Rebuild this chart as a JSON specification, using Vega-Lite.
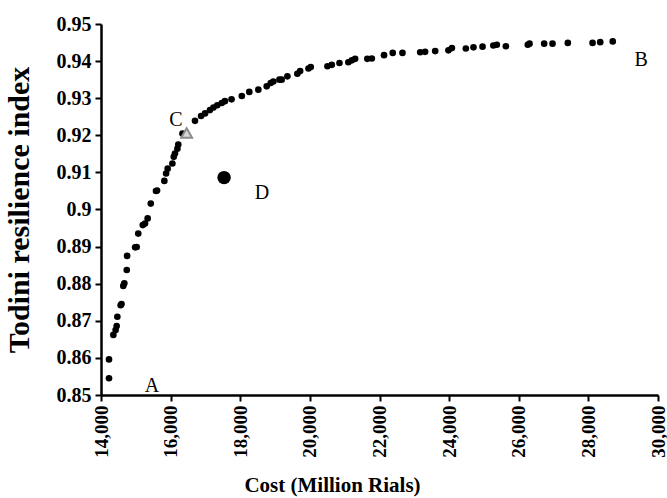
{
  "$schema": "https://vega.github.io/schema/vega-lite/v6.json",
  "width": 557,
  "height": 371,
  "autosize": {"type": "none"},
  "padding": {"left": 101, "top": 24, "right": 9, "bottom": 103},
  "background": "white",
  "config": {
    "view": {"stroke": null},
    "font": "Liberation Serif",
    "axis": {
      "grid": false,
      "domainColor": "black",
      "domainWidth": 2.5,
      "tickColor": "black",
      "tickWidth": 2,
      "tickSize": 6,
      "labelFont": "Liberation Serif",
      "labelFontWeight": "bold",
      "labelFontSize": 19,
      "labelColor": "black",
      "titleFont": "Liberation Serif",
      "titleFontWeight": "bold",
      "titleColor": "black"
    }
  },
  "datasets": {
    "pareto": [
      {"cost": 14230, "index": 0.8545},
      {"cost": 14230, "index": 0.8596},
      {"cost": 14355, "index": 0.8662},
      {"cost": 14420, "index": 0.8675},
      {"cost": 14450, "index": 0.8686},
      {"cost": 14470, "index": 0.8711},
      {"cost": 14565, "index": 0.8742},
      {"cost": 14590, "index": 0.8745},
      {"cost": 14640, "index": 0.8794},
      {"cost": 14670, "index": 0.8801},
      {"cost": 14740, "index": 0.8837},
      {"cost": 14750, "index": 0.8875},
      {"cost": 14980, "index": 0.8898},
      {"cost": 15025, "index": 0.8899},
      {"cost": 15070, "index": 0.8935},
      {"cost": 15200, "index": 0.8958},
      {"cost": 15265, "index": 0.8962},
      {"cost": 15340, "index": 0.8976},
      {"cost": 15430, "index": 0.9016},
      {"cost": 15580, "index": 0.905},
      {"cost": 15610, "index": 0.9051},
      {"cost": 15820, "index": 0.9077},
      {"cost": 15870, "index": 0.9097},
      {"cost": 15915, "index": 0.911},
      {"cost": 16050, "index": 0.9124},
      {"cost": 16090, "index": 0.9142},
      {"cost": 16125, "index": 0.9151},
      {"cost": 16195, "index": 0.9164},
      {"cost": 16220, "index": 0.9175},
      {"cost": 16340, "index": 0.9205},
      {"cost": 16700, "index": 0.9239},
      {"cost": 16875, "index": 0.9252},
      {"cost": 16990, "index": 0.9259},
      {"cost": 17130, "index": 0.9268},
      {"cost": 17230, "index": 0.9275},
      {"cost": 17340, "index": 0.9281},
      {"cost": 17470, "index": 0.9287},
      {"cost": 17560, "index": 0.9292},
      {"cost": 17750, "index": 0.9297},
      {"cost": 18045, "index": 0.9306},
      {"cost": 18260, "index": 0.9317},
      {"cost": 18520, "index": 0.9323},
      {"cost": 18760, "index": 0.9332},
      {"cost": 18875, "index": 0.9341},
      {"cost": 18950, "index": 0.9345},
      {"cost": 19125, "index": 0.935},
      {"cost": 19190, "index": 0.935},
      {"cost": 19355, "index": 0.9359},
      {"cost": 19640, "index": 0.9366},
      {"cost": 19720, "index": 0.9373},
      {"cost": 19960, "index": 0.938},
      {"cost": 20025, "index": 0.9384},
      {"cost": 20505, "index": 0.9386},
      {"cost": 20630, "index": 0.939},
      {"cost": 20850, "index": 0.9395},
      {"cost": 21105, "index": 0.9397},
      {"cost": 21205, "index": 0.9402},
      {"cost": 21300, "index": 0.9406},
      {"cost": 21650, "index": 0.9406},
      {"cost": 21780, "index": 0.9407},
      {"cost": 22130, "index": 0.9416},
      {"cost": 22380, "index": 0.9422},
      {"cost": 22660, "index": 0.9422},
      {"cost": 23170, "index": 0.9424},
      {"cost": 23310, "index": 0.9425},
      {"cost": 23600, "index": 0.9427},
      {"cost": 23980, "index": 0.9429},
      {"cost": 24080, "index": 0.9435},
      {"cost": 24480, "index": 0.9434},
      {"cost": 24700, "index": 0.9437},
      {"cost": 24960, "index": 0.9439},
      {"cost": 25270, "index": 0.9442},
      {"cost": 25370, "index": 0.9444},
      {"cost": 25630, "index": 0.944},
      {"cost": 26260, "index": 0.9444},
      {"cost": 26310, "index": 0.9447},
      {"cost": 26730, "index": 0.9447},
      {"cost": 26970, "index": 0.9447},
      {"cost": 27410, "index": 0.9449},
      {"cost": 28120, "index": 0.9449},
      {"cost": 28340, "index": 0.9451},
      {"cost": 28700, "index": 0.9453}
    ],
    "pointC": [{"cost": 16460, "index": 0.9206}],
    "pointD": [{"cost": 17535, "index": 0.9086}],
    "labels": [
      {"cost": 15465, "index": 0.8508, "label": "A"},
      {"cost": 29517, "index": 0.9386, "label": "B"},
      {"cost": 16155, "index": 0.9225, "label": "C"},
      {"cost": 18626, "index": 0.9028, "label": "D"}
    ]
  },
  "encoding": {
    "x": {
      "field": "cost",
      "type": "quantitative",
      "scale": {"domain": [14000, 30000], "nice": false, "zero": false},
      "axis": {
        "title": "Cost (Million Rials)",
        "titleFontSize": 21,
        "titlePadding": 17,
        "titleX": 231,
        "values": [14000, 16000, 18000, 20000, 22000, 24000, 26000, 28000, 30000],
        "format": ",.0f",
        "labelAngle": -90,
        "labelAlign": "right",
        "labelBaseline": "middle",
        "labelPadding": 4,
        "labelFlush": false,
        "labelOverlap": false
      }
    },
    "y": {
      "field": "index",
      "type": "quantitative",
      "scale": {"domain": [0.85, 0.95], "nice": false, "zero": false},
      "axis": {
        "title": "Todini resilience index",
        "titleFontSize": 30,
        "titlePadding": 22,
        "values": [0.85, 0.86, 0.87, 0.88, 0.89, 0.9, 0.91, 0.92, 0.93, 0.94, 0.95],
        "format": ".2~f",
        "labelFontSize": 20,
        "labelPadding": 4,
        "labelFlush": false,
        "labelOverlap": false
      }
    }
  },
  "layer": [
    {
      "data": {"name": "pareto"},
      "mark": {"type": "point", "shape": "circle", "filled": true, "color": "black", "size": 44, "opacity": 1}
    },
    {
      "data": {"name": "pointC"},
      "mark": {"type": "point", "shape": "triangle-up", "filled": true, "fill": "#d9d9d9", "stroke": "#8c8c8c", "strokeWidth": 2, "size": 120, "opacity": 1}
    },
    {
      "data": {"name": "pointD"},
      "mark": {"type": "point", "shape": "circle", "filled": true, "color": "black", "size": 180, "opacity": 1}
    },
    {
      "data": {"name": "labels"},
      "mark": {"type": "text", "font": "Liberation Serif", "fontSize": 20, "color": "black", "align": "center", "baseline": "alphabetic"},
      "encoding": {"text": {"field": "label", "type": "nominal"}}
    }
  ]
}
